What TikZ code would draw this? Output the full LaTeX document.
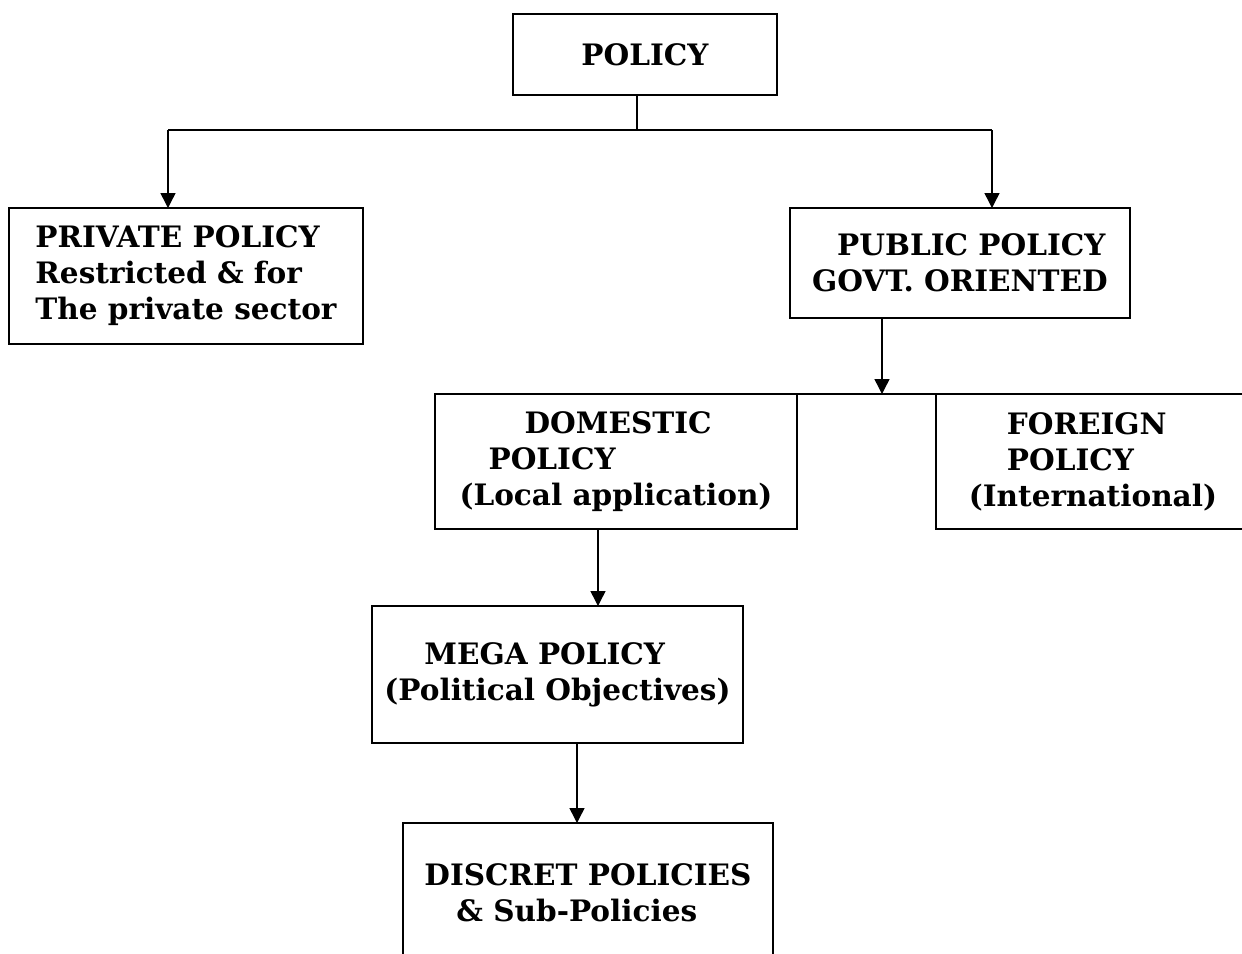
\documentclass[tikz,border=0pt]{standalone}
\usepackage{fontspec}
\setmainfont{DejaVu Serif}
\usetikzlibrary{arrows.meta}

\tikzset{
  box/.style={draw, line width=1.3pt, align=left, inner sep=0pt, outer sep=0pt,
    font=\fontsize{16.8}{20.5}\selectfont\bfseries},
  link/.style={line width=0.8pt},
  arr/.style={link, -{Triangle[length=0.3cm,width=0.3cm]}},
}

\begin{document}
\begin{tikzpicture}[x=0.02cm,y=-0.02cm]
    \clip (0,0) rectangle (1242,954);
    \node[box, minimum width=5.28cm, minimum height=1.62cm] (policy) at (645,54.5) {POLICY};
    \node[box, minimum width=7.08cm, minimum height=2.72cm] (private) at (186,276)
      {PRIVATE POLICY\\Restricted \& for\\The private sector};
    \node[box, minimum width=6.8cm, minimum height=2.2cm] (public) at (960,263)
      {\hspace*{0.5cm}PUBLIC POLICY\\GOVT. ORIENTED};
    \node[box, minimum width=7.24cm, minimum height=2.7cm] (domestic) at (616,461.5)
      {\hspace*{1.3cm}DOMESTIC\\\hspace*{0.58cm}POLICY\\(Local application)};
    \node[box, minimum width=6.28cm, minimum height=2.7cm] (foreign) at (1093,461.5)
      {\hspace*{0.76cm}FOREIGN\\\hspace*{0.76cm}POLICY\\(International)};
    \node[box, minimum width=7.42cm, minimum height=2.74cm] (mega) at (557.5,674.5)
      {\hspace*{0.8cm}MEGA POLICY\\(Political Objectives)};
    \node[box, minimum width=7.4cm, minimum height=2.78cm] (discrete) at (588,892.5)
      {DISCRET POLICIES\\\hspace*{0.64cm}\& Sub-Policies};

    % policy splits into private and public
    \coordinate (split) at (637,130);
    \coordinate (lbend) at (168,130);
    \coordinate (rbend) at (992,130);
    \draw[link] (split |- policy.south) -- (split);
    \draw[link] (lbend) -- (rbend);
    \draw[arr] (lbend) -- (lbend |- private.north);
    \draw[arr] (rbend) -- (rbend |- public.north);

    % public policy branches
    \coordinate (pubdrop) at (882,0);
    \draw[arr] (pubdrop |- public.south) -- (pubdrop |- domestic.north);
    \draw[link] (domestic.north east) -- (foreign.north west);

    % down the domestic line
    \coordinate (domdrop) at (598,0);
    \draw[arr] (domdrop |- domestic.south) -- (domdrop |- mega.north);
    \coordinate (megadrop) at (577,0);
    \draw[arr] (megadrop |- mega.south) -- (megadrop |- discrete.north);
  \end{tikzpicture}
\end{document}
